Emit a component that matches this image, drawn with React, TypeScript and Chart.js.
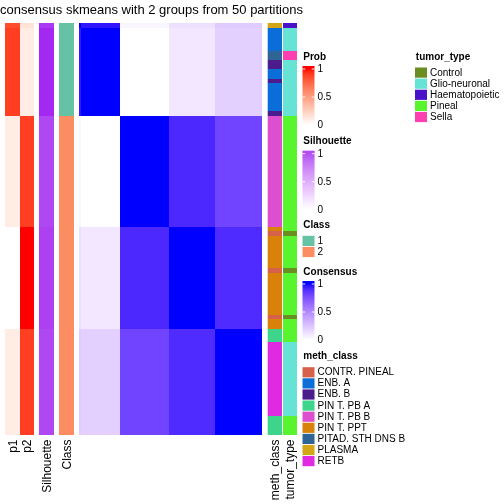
import React, { useEffect, useRef } from "react";
import { Chart, registerables } from "chart.js";
Chart.register(...registerables);

// ---------------- data ----------------
const titleText = "consensus skmeans with 2 groups from 50 partitions";
const groupSizes = [20, 24, 22, 23];
const groupClass = [1, 2, 2, 2];
const blockConsensus = [
  [1.0, 0.0, 0.1, 0.2],
  [0.0, 1.0, 0.91, 0.8],
  [0.1, 0.91, 1.0, 0.9],
  [0.2, 0.8, 0.9, 1.0],
];
const firstSampleConsensus = [0.96, 0.04, 0.13, 0.22];
const groupP1 = [0.9, 0.1, 0.0, 0.1];
const groupP2 = [0.1, 0.9, 1.0, 0.9];
const firstSampleProb = [0.85, 0.15];
const groupSilhouette = [0.98, 0.88, 0.9, 0.88];
const firstSampleSilhouette = 0.93;

const methClassRuns: [string, number][] = [
  ["PLASMA", 1], ["ENB. A", 5], ["PITAD. STH DNS B", 2], ["ENB. B", 2], ["ENB. A", 2],
  ["ENB. B", 1], ["ENB. A", 6], ["ENB. B", 1], ["PIN T. PB B", 24], ["PIN T. PPT", 1],
  ["CONTR. PINEAL", 1], ["PIN T. PPT", 7], ["CONTR. PINEAL", 1], ["PIN T. PPT", 9],
  ["CONTR. PINEAL", 1], ["PIN T. PPT", 2], ["PIN T. PB A", 3], ["RETB", 16], ["PIN T. PB A", 4],
];
const tumorTypeRuns: [string, number][] = [
  ["Haematopoietic", 1], ["Glio-neuronal", 5], ["Sella", 2], ["Glio-neuronal", 12],
  ["Pineal", 25], ["Control", 1], ["Pineal", 7], ["Control", 1], ["Pineal", 9],
  ["Control", 1], ["Pineal", 5], ["Glio-neuronal", 16], ["Pineal", 4],
];
const methClassLevels = ["CONTR. PINEAL", "ENB. A", "ENB. B", "PIN T. PB A", "PIN T. PB B", "PIN T. PPT", "PITAD. STH DNS B", "PLASMA", "RETB"];
const methClassColors = ["#d6604a", "#0b6dd8", "#4b1d8c", "#3dd58c", "#de4fd0", "#d88209", "#2f6596", "#d4a514", "#df2ae2"];
const tumorTypeLevels = ["Control", "Glio-neuronal", "Haematopoietic", "Pineal", "Sella"];
const tumorTypeColors = ["#6b8e23", "#66e3d4", "#4b13c9", "#58f52f", "#ff3eb0"];
const classLevels = ["1", "2"];
const classColors = ["#66c2a5", "#fc8d62"];
const legendTicks = ["1", "0.5", "0"];
const bottomLabels = ["p1", "p2", "Silhouette", "Class", "meth_class", "tumor_type"];

// ---------------- colour helpers (LAB ramp like colorRamp2) ----------------
function hexToRgb(h: string) {
  return [parseInt(h.slice(1, 3), 16), parseInt(h.slice(3, 5), 16), parseInt(h.slice(5, 7), 16)];
}
function toLin(c: number) { c /= 255; return c <= 0.04045 ? c / 12.92 : Math.pow((c + 0.055) / 1.055, 2.4); }
function fromLin(c: number) {
  const v = c <= 0.0031308 ? 12.92 * c : 1.055 * Math.pow(c, 1 / 2.4) - 0.055;
  return Math.round(Math.max(0, Math.min(1, v)) * 255);
}
function rgbToLab(rgb: number[]) {
  const [R, G, B] = rgb.map(toLin);
  const X = (0.4124 * R + 0.3576 * G + 0.1805 * B) / 0.95047;
  const Y = 0.2126 * R + 0.7152 * G + 0.0722 * B;
  const Z = (0.0193 * R + 0.1192 * G + 0.9505 * B) / 1.08883;
  const f = (t: number) => (t > 0.008856 ? Math.cbrt(t) : 7.787 * t + 16 / 116);
  const fx = f(X), fy = f(Y), fz = f(Z);
  return [116 * fy - 16, 500 * (fx - fy), 200 * (fy - fz)];
}
function labToRgb(lab: number[]) {
  const fy = (lab[0] + 16) / 116, fx = fy + lab[1] / 500, fz = fy - lab[2] / 200;
  const fi = (t: number) => (t * t * t > 0.008856 ? t * t * t : (t - 16 / 116) / 7.787);
  const X = fi(fx) * 0.95047, Y = fi(fy), Z = fi(fz) * 1.08883;
  const R = 3.2406 * X - 1.5372 * Y - 0.4986 * Z;
  const G = -0.9689 * X + 1.8758 * Y + 0.0415 * Z;
  const B = 0.0557 * X - 0.204 * Y + 1.057 * Z;
  return [fromLin(R), fromLin(G), fromLin(B)];
}
function ramp(hi: string) {
  const a = rgbToLab([255, 255, 255]);
  const b = rgbToLab(hexToRgb(hi));
  return (v: number) => {
    const t = Math.max(0, Math.min(1, v));
    const c = labToRgb([a[0] + (b[0] - a[0]) * t, a[1] + (b[1] - a[1]) * t, a[2] + (b[2] - a[2]) * t]);
    return `rgb(${c[0]},${c[1]},${c[2]})`;
  };
}
const probColor = ramp("#ff0000");
const silColor = ramp("#a020f0");
const consColor = ramp("#0000ff");

// ---------------- per-sample derivation ----------------
const sampleGroup: number[] = [];
groupSizes.forEach((n, g) => { for (let k = 0; k < n; k++) sampleGroup.push(g); });
const N = sampleGroup.length;
function expandRuns(runs: [string, number][]) {
  const out: string[] = [];
  runs.forEach(([lv, n]) => { for (let k = 0; k < n; k++) out.push(lv); });
  return out;
}
const sampleMeth = expandRuns(methClassRuns);
const sampleTumor = expandRuns(tumorTypeRuns);
function consensus(i: number, j: number) {
  if (i === j) return 1;
  if (i === 0 || j === 0) return firstSampleConsensus[sampleGroup[i === 0 ? j : i]];
  return blockConsensus[sampleGroup[i]][sampleGroup[j]];
}
const sampleP1 = sampleGroup.map((g, i) => (i === 0 ? firstSampleProb[0] : groupP1[g]));
const sampleP2 = sampleGroup.map((g, i) => (i === 0 ? firstSampleProb[1] : groupP2[g]));
const sampleSil = sampleGroup.map((g, i) => (i === 0 ? firstSampleSilhouette : groupSilhouette[g]));
const sampleClass = sampleGroup.map((g) => groupClass[g]);

const FONT = '"Liberation Sans", Arial, Helvetica, sans-serif';

const heatPlugin = {
  id: "heat",
  beforeDraw(chart: any) {
    const ctx = chart.ctx;
    ctx.save();
    ctx.fillStyle = "#ffffff";
    ctx.fillRect(0, 0, chart.width, chart.height);
    ctx.restore();
  },
  afterDatasetsDraw(chart: any) {
    const ctx = chart.ctx;
    const xs = chart.scales.x, ys = chart.scales.y;
    const area = chart.chartArea;
    const X = (v: number) => Math.round(xs.getPixelForValue(v));
    const Y = (v: number) => Math.round(ys.getPixelForValue(v));
    ctx.save();
    // heatmap body from dataset cells
    const cells = chart.data.datasets[0].data;
    for (const c of cells) {
      ctx.fillStyle = consColor(c.v);
      ctx.fillRect(X(c.x), Y(c.y), X(c.x + 1) - X(c.x), Y(c.y + 1) - Y(c.y));
    }
    // annotation columns
    const L = area.left, R = area.right;
    const cols: { x0: number; x1: number; color: (i: number) => string }[] = [
      { x0: L - 74, x1: L - 59, color: (i) => probColor(sampleP1[i]) },
      { x0: L - 59, x1: L - 45, color: (i) => probColor(sampleP2[i]) },
      { x0: L - 40, x1: L - 25, color: (i) => silColor(sampleSil[i]) },
      { x0: L - 20, x1: L - 5, color: (i) => classColors[sampleClass[i] - 1] },
      { x0: R + 5.7, x1: R + 20, color: (i) => methClassColors[methClassLevels.indexOf(sampleMeth[i])] },
      { x0: R + 21, x1: R + 35, color: (i) => tumorTypeColors[tumorTypeLevels.indexOf(sampleTumor[i])] },
    ];
    for (const col of cols) {
      for (let i = 0; i < N; i++) {
        ctx.fillStyle = col.color(i);
        ctx.fillRect(col.x0, Y(i), col.x1 - col.x0, Y(i + 1) - Y(i));
      }
    }
    // bottom rotated labels
    ctx.fillStyle = "#000";
    ctx.font = `12px ${FONT}`;
    ctx.textAlign = "right";
    ctx.textBaseline = "alphabetic";
    cols.forEach((col, k) => {
      const cx = (col.x0 + col.x1) / 2 + 4.3;
      ctx.save();
      ctx.translate(cx, area.bottom + 4.5);
      ctx.rotate(-Math.PI / 2);
      ctx.fillText(bottomLabels[k], 0, 0);
      ctx.restore();
    });
    // title
    ctx.font = `13px ${FONT}`;
    ctx.textAlign = "center";
    ctx.fillText(titleText, 151.5, 14);

    // legends
    const lx = R + 40.5;
    const drawTitle = (t: string, x: number, y: number) => {
      ctx.font = `bold 10px ${FONT}`;
      ctx.textAlign = "left";
      ctx.textBaseline = "middle";
      ctx.fillStyle = "#000";
      ctx.fillText(t, x, y);
    };
    const drawGradient = (t: string, y: number, fn: (v: number) => string) => {
      drawTitle(t, lx + 0.8, y);
      const top = y + 9, t1 = y + 12, step = 28, bottom = t1 + 2 * step + 1.5;
      for (let yy = top; yy < bottom; yy++) {
        const v = (t1 + 2 * step - (yy + 0.5)) / (2 * step);
        ctx.fillStyle = fn(v);
        ctx.fillRect(lx, yy, 12, 1);
      }
      ctx.strokeStyle = "rgba(255,255,255,0.9)";
      ctx.lineWidth = 1;
      ctx.font = `10px ${FONT}`;
      ctx.textAlign = "left";
      ctx.textBaseline = "middle";
      legendTicks.forEach((lab, k) => {
        const ty = t1 + k * step;
        ctx.beginPath();
        ctx.moveTo(lx, ty); ctx.lineTo(lx + 2.7, ty);
        ctx.moveTo(lx + 9.3, ty); ctx.lineTo(lx + 12, ty);
        ctx.stroke();
        ctx.fillStyle = "#000";
        ctx.fillText(lab, lx + 15, ty + 0.5);
      });
    };
    const drawDiscrete = (t: string, x: number, y: number, levels: string[], colors: string[]) => {
      drawTitle(t, x + 0.8, y);
      ctx.font = `10px ${FONT}`;
      levels.forEach((lv, k) => {
        const by = y + 10 + k * 11.1;
        ctx.fillStyle = colors[k];
        ctx.fillRect(x, by + 0.5, 12, 10.2);
        ctx.fillStyle = "#000";
        ctx.textBaseline = "middle";
        ctx.fillText(lv, x + 15, by + 5.8);
      });
    };
    drawGradient("Prob", 57, probColor);
    drawGradient("Silhouette", 141.7, silColor);
    drawDiscrete("Class", lx, 225.3, classLevels, classColors);
    drawGradient("Consensus", 272, consColor);
    drawDiscrete("meth_class", lx, 356.7, methClassLevels, methClassColors);
    drawDiscrete("tumor_type", R + 153, 57, tumorTypeLevels, tumorTypeColors);
    ctx.restore();
  },
};

export default function App() {
  const ref = useRef<HTMLCanvasElement | null>(null);
  useEffect(() => {
    if (!ref.current) return;
    const cells: { x: number; y: number; v: number }[] = [];
    for (let i = 0; i < N; i++) for (let j = 0; j < N; j++) cells.push({ x: j, y: i, v: consensus(i, j) });
    const chart = new Chart(ref.current, {
      type: "scatter",
      data: { datasets: [{ label: "consensus", data: cells as any, pointRadius: 0, showLine: false }] },
      options: {
        responsive: false,
        animation: false,
        events: [],
        layout: { padding: { left: 79, right: 242, top: 23, bottom: 69 } },
        plugins: { legend: { display: false }, tooltip: { enabled: false }, title: { display: false } },
        scales: {
          x: { type: "linear", min: 0, max: N, display: false },
          y: { type: "linear", min: 0, max: N, reverse: true, display: false },
        },
      },
      plugins: [heatPlugin],
    });
    return () => chart.destroy();
  }, []);
  return (
    <canvas
      ref={ref}
      width={504}
      height={504}
      style={{ position: "absolute", left: 0, top: 0, width: 504, height: 504 }}
    />
  );
}
